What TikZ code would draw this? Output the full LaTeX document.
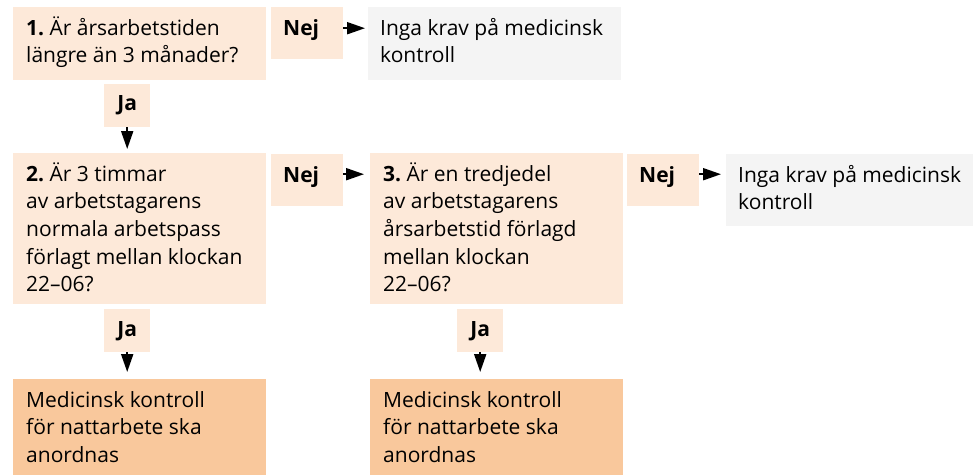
\documentclass[tikz,border=0pt]{standalone}
\usepackage{fontspec}
\setmainfont{Open Sans}
\frenchspacing
\usetikzlibrary{arrows.meta}
\definecolor{peachLight}{HTML}{FDE9D9}
\definecolor{peachDark}{HTML}{F9C89C}
\definecolor{greyPale}{HTML}{F4F4F4}
\tikzset{
  cell/.style={anchor=north west,align=flush left,inner ysep=0pt,text height=28pt,
    font=\fontsize{21}{27.6}\selectfont},
  question/.style={cell,fill=peachLight,inner xsep=13pt,text width=227pt},
  result/.style={cell,fill=peachDark,inner xsep=13pt,text width=227pt,text depth=68pt},
  nokrav/.style={cell,fill=greyPale,inner xsep=12pt,text width=229pt},
  nejbox/.style={cell,fill=peachLight,inner xsep=12pt,text width=48pt,text depth=24pt,
    font=\fontsize{21}{27.6}\selectfont\bfseries},
  jabox/.style={anchor=north west,fill=peachLight,inner sep=0pt,minimum width=46pt,
    minimum height=43pt,font=\fontsize{21}{27.6}\selectfont\bfseries},
  arr/.style={-{Triangle[length=18pt,width=12pt]},line width=2pt}
}
\begin{document}
\begin{tikzpicture}[x=1pt,y=-1pt]
  \useasboundingbox (0,0) rectangle (973,475);
  \node[question,text depth=45pt] (q1) at (13,7) {\textbf{1.} Är årsarbetstiden\\längre än 3 månader?};
  \node[nejbox] (nej1) at (271,7) {Nej};
  \node[nokrav,text depth=45pt] (krav1) at (368,7) {Inga krav på medicinsk\\kontroll};
  \node[jabox] (ja1) at (104,84) {Ja};
  \node[question,text depth=123pt] (q2) at (13,153) {\textbf{2.} Är 3 timmar\\av arbetstagarens\\normala arbetspass\\förlagt mellan klockan\\22–06?};
  \node[nejbox] (nej2) at (271,154) {Nej};
  \node[question,text depth=123pt] (q3) at (370,153) {\textbf{3.} Är en tredjedel\\av arbetstagarens\\årsarbetstid förlagd\\mellan klockan\\22–06?};
  \node[nejbox] (nej3) at (627,154) {Nej};
  \node[nokrav,text depth=44pt] (krav2) at (726,154) {Inga krav på medicinsk\\kontroll};
  \node[jabox] (ja2) at (104,309) {Ja};
  \node[jabox] (ja3) at (457,309) {Ja};
  \node[result] (res1) at (13,379) {Medicinsk kontroll\\för nattarbete ska\\anordnas};
  \node[result] (res2) at (370,379) {Medicinsk kontroll\\för nattarbete ska\\anordnas};
  \draw[arr,shorten >=3pt] ([yshift=5pt]nej1.east) -- ([yshift=5pt]nej1.east -| krav1.west);
  \draw[arr,shorten >=6pt] ([yshift=6pt]nej2.east) -- ([yshift=6pt]nej2.east -| q3.west);
  \draw[arr,shorten >=5pt] ([yshift=6pt]nej3.east) -- ([yshift=6pt]nej3.east -| krav2.west);
  \draw[arr,shorten >=4pt] (ja1.south) -- (ja1.south |- q2.north);
  \draw[arr,shorten >=7pt] (ja2.south) -- (ja2.south |- res1.north);
  \draw[arr,shorten >=7pt] (ja3.south) -- (ja3.south |- res2.north);
\end{tikzpicture}
\end{document}
